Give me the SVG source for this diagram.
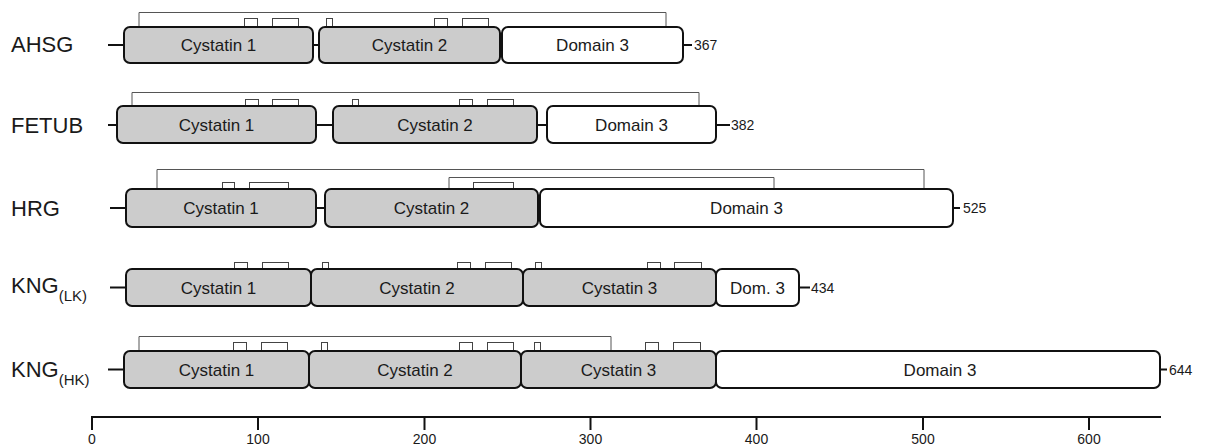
<svg xmlns="http://www.w3.org/2000/svg" width="1205" height="445" viewBox="0 0 1205 445">
  <style>
    text { font-family: "Liberation Sans", Arial, sans-serif; fill: #1a1a1a; }
    .name { font-size: 22px; }
    .sub { font-size: 15px; }
    .dom { font-size: 17px; text-anchor: middle; }
    .len { font-size: 14px; }
    .tick { font-size: 14px; text-anchor: middle; }
    .cys { fill: #cccccc; stroke: #111; stroke-width: 2; }
    .plain { fill: #ffffff; stroke: #111; stroke-width: 2; }
    .chain { stroke: #111; stroke-width: 2; fill: none; }
    .ss { stroke: #555; stroke-width: 1; fill: none; }
    .site { fill: #ffffff; stroke: #444; stroke-width: 1; }
    .axis { stroke: #111; stroke-width: 2; fill: none; }
  </style>

  <!-- AHSG -->
  <g id="ahsg">
    <text class="name" x="11" y="52">AHSG</text>
    <g class="connectors">
      <line class="chain" x1="108" y1="45" x2="124" y2="45"/>
      <line class="chain" x1="313" y1="45" x2="319" y2="45"/>
      <line class="chain" x1="683" y1="45" x2="692" y2="45"/>
      <polyline class="ss" points="139,27 139,12.5 666,12.5 666,27"/>
    </g>
    <rect class="site" x="244.5" y="18.5" width="13" height="8"/>
    <rect class="site" x="272.5" y="18.5" width="26" height="8"/>
    <rect class="site" x="326.5" y="18.5" width="6" height="8"/>
    <rect class="site" x="434.5" y="18.5" width="13" height="8"/>
    <rect class="site" x="462.5" y="18.5" width="26" height="8"/>
    <rect class="cys" x="124" y="27" width="189" height="36" rx="6"/>
    <rect class="cys" x="319" y="27" width="181" height="36" rx="6"/>
    <rect class="plain" x="502" y="27" width="181" height="36" rx="6"/>
    <text class="dom" x="218.5" y="51">Cystatin 1</text>
    <text class="dom" x="409.5" y="51">Cystatin 2</text>
    <text class="dom" x="592.5" y="51">Domain 3</text>
    <text class="len" x="694" y="50">367</text>
  </g>

  <!-- FETUB -->
  <g id="fetub">
    <text class="name" x="11" y="133">FETUB</text>
    <g class="connectors">
      <line class="chain" x1="108" y1="125" x2="117" y2="125"/>
      <line class="chain" x1="316" y1="125" x2="333" y2="125"/>
      <line class="chain" x1="537" y1="125" x2="547" y2="125"/>
      <line class="chain" x1="716" y1="125" x2="730" y2="125"/>
      <polyline class="ss" points="132,106 132,92.5 699,92.5 699,106"/>
    </g>
    <rect class="site" x="245.5" y="99.5" width="13" height="7"/>
    <rect class="site" x="272.5" y="99.5" width="26" height="7"/>
    <rect class="site" x="352.5" y="99.5" width="6" height="7"/>
    <rect class="site" x="459.5" y="99.5" width="13" height="7"/>
    <rect class="site" x="487.5" y="99.5" width="26" height="7"/>
    <rect class="cys" x="117" y="106" width="199" height="37" rx="6"/>
    <rect class="cys" x="333" y="106" width="204" height="37" rx="6"/>
    <rect class="plain" x="547" y="106" width="169" height="37" rx="6"/>
    <text class="dom" x="216.5" y="131">Cystatin 1</text>
    <text class="dom" x="435" y="131">Cystatin 2</text>
    <text class="dom" x="631.5" y="131">Domain 3</text>
    <text class="len" x="731" y="130">382</text>
  </g>

  <!-- HRG -->
  <g id="hrg">
    <text class="name" x="11" y="216">HRG</text>
    <g class="connectors">
      <line class="chain" x1="110" y1="208" x2="126" y2="208"/>
      <line class="chain" x1="316" y1="208" x2="325" y2="208"/>
      <line class="chain" x1="953" y1="208" x2="960" y2="208"/>
      <polyline class="ss" points="157,189 157,169.5 924,169.5 924,189"/>
      <polyline class="ss" points="449,189 449,177.5 774,177.5 774,189"/>
    </g>
    <rect class="site" x="222.5" y="182.5" width="12" height="7"/>
    <rect class="site" x="249.5" y="182.5" width="39" height="7"/>
    <rect class="site" x="473.5" y="182.5" width="40" height="7"/>
    <rect class="cys" x="126" y="189" width="190" height="38" rx="6"/>
    <rect class="cys" x="325" y="189" width="213" height="38" rx="6"/>
    <rect class="plain" x="540" y="189" width="413" height="38" rx="6"/>
    <text class="dom" x="221" y="214">Cystatin 1</text>
    <text class="dom" x="431.5" y="214">Cystatin 2</text>
    <text class="dom" x="746.5" y="214">Domain 3</text>
    <text class="len" x="963" y="213">525</text>
  </g>

  <!-- KNG low molecular weight -->
  <g id="kng-lk">
    <text class="name" x="11" y="293">KNG<tspan class="sub" dy="8">(LK)</tspan></text>
    <g class="connectors">
      <line class="chain" x1="110" y1="287.5" x2="126" y2="287.5"/>
      <line class="chain" x1="799" y1="287.5" x2="810" y2="287.5"/>
    </g>
    <rect class="site" x="234.5" y="262.5" width="13" height="7"/>
    <rect class="site" x="262.5" y="262.5" width="26" height="7"/>
    <rect class="site" x="322.5" y="262.5" width="6" height="7"/>
    <rect class="site" x="457.5" y="262.5" width="13" height="7"/>
    <rect class="site" x="485.5" y="262.5" width="26" height="7"/>
    <rect class="site" x="535.5" y="262.5" width="6" height="7"/>
    <rect class="site" x="647.5" y="262.5" width="13" height="7"/>
    <rect class="site" x="674.5" y="262.5" width="27" height="7"/>
    <rect class="cys" x="126" y="269" width="185" height="37" rx="6"/>
    <rect class="cys" x="311" y="269" width="212" height="37" rx="6"/>
    <rect class="cys" x="523" y="269" width="193" height="37" rx="6"/>
    <rect class="plain" x="716" y="269" width="83" height="37" rx="6"/>
    <text class="dom" x="218.5" y="293.5">Cystatin 1</text>
    <text class="dom" x="417" y="293.5">Cystatin 2</text>
    <text class="dom" x="619.5" y="293.5">Cystatin 3</text>
    <text class="dom" x="757.5" y="293.5">Dom. 3</text>
    <text class="len" x="811" y="292.5">434</text>
  </g>

  <!-- KNG high molecular weight -->
  <g id="kng-hk">
    <text class="name" x="11" y="377">KNG<tspan class="sub" dy="8">(HK)</tspan></text>
    <g class="connectors">
      <line class="chain" x1="108" y1="369.5" x2="124" y2="369.5"/>
      <line class="chain" x1="1160" y1="369.5" x2="1167" y2="369.5"/>
      <polyline class="ss" points="139,351 139,336.5 611,336.5 611,351"/>
    </g>
    <rect class="site" x="233.5" y="342.5" width="13" height="8"/>
    <rect class="site" x="261.5" y="342.5" width="26" height="8"/>
    <rect class="site" x="321.5" y="342.5" width="6" height="8"/>
    <rect class="site" x="459.5" y="342.5" width="13" height="8"/>
    <rect class="site" x="487.5" y="342.5" width="26" height="8"/>
    <rect class="site" x="534.5" y="342.5" width="6" height="8"/>
    <rect class="site" x="645.5" y="342.5" width="13" height="8"/>
    <rect class="site" x="673.5" y="342.5" width="27" height="8"/>
    <rect class="cys" x="124" y="351" width="185" height="37" rx="6"/>
    <rect class="cys" x="309" y="351" width="212" height="37" rx="6"/>
    <rect class="cys" x="521" y="351" width="195" height="37" rx="6"/>
    <rect class="plain" x="716" y="351" width="444" height="37" rx="6"/>
    <text class="dom" x="216.5" y="375.5">Cystatin 1</text>
    <text class="dom" x="415" y="375.5">Cystatin 2</text>
    <text class="dom" x="618.5" y="375.5">Cystatin 3</text>
    <text class="dom" x="940" y="375.5">Domain 3</text>
    <text class="len" x="1169" y="374.5">644</text>
  </g>

  <!-- residue scale -->
  <g id="scale">
    <line class="axis" x1="92" y1="417" x2="1161" y2="417"/>
    <line class="axis" x1="92" y1="416" x2="92" y2="430"/>
    <line class="axis" x1="258" y1="417" x2="258" y2="430"/>
    <line class="axis" x1="424.5" y1="417" x2="424.5" y2="430"/>
    <line class="axis" x1="590.5" y1="417" x2="590.5" y2="430"/>
    <line class="axis" x1="756.5" y1="417" x2="756.5" y2="430"/>
    <line class="axis" x1="923" y1="417" x2="923" y2="430"/>
    <line class="axis" x1="1089" y1="417" x2="1089" y2="430"/>
    <text class="tick" x="92" y="444">0</text>
    <text class="tick" x="258" y="444">100</text>
    <text class="tick" x="424.5" y="444">200</text>
    <text class="tick" x="590.5" y="444">300</text>
    <text class="tick" x="756.5" y="444">400</text>
    <text class="tick" x="923" y="444">500</text>
    <text class="tick" x="1089" y="444">600</text>
  </g>
</svg>
